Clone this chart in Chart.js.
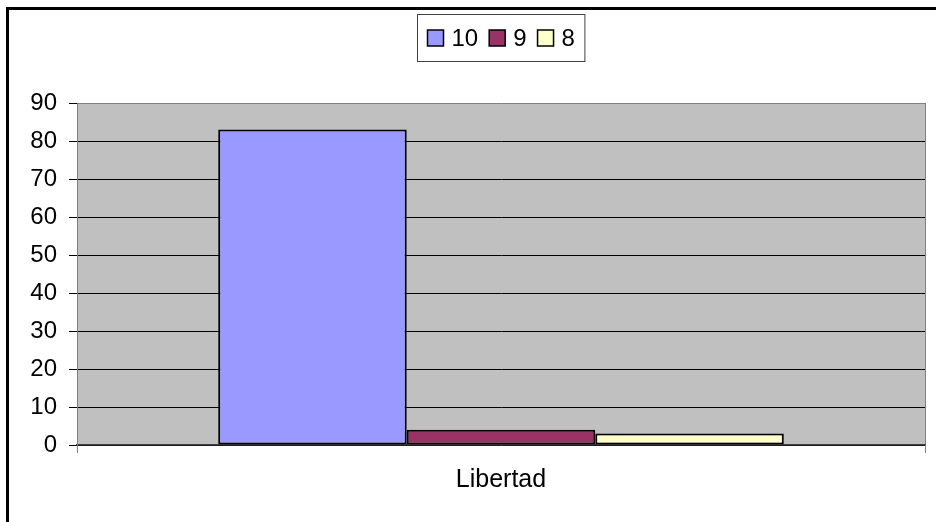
<!DOCTYPE html>
<html>
<head>
<meta charset="utf-8">
<script src="https://cdn.jsdelivr.net/npm/chart.js@4"></script>
<style>
    html, body { margin: 0; padding: 0; background: #fff; overflow: hidden; }
    #marco { position: absolute; left: 6px; top: 7px; width: 960px; height: 540px; border: 3px solid #000; }
    #wrap { position: absolute; left: 0; top: 0; width: 936px; height: 522px; }
</style>
</head>
<body>
<div id="marco"></div>
<div id="wrap"><canvas id="grafico" width="936" height="522"></canvas></div>
<script>
// ===== Datos del grafico =====
const categorias = ['Libertad'];
const series = ['10', '9', '8'];
const valores = [[83], [4], [3]];
const colores = ['#9999FF', '#993366', '#FFFFCC'];
const ticksY = [0, 10, 20, 30, 40, 50, 60, 70, 80, 90];

const FUENTE = "'Liberation Sans', Arial, sans-serif";

// fondo gris del area de trazado
const fondoPlot = {
    id: 'fondoPlot',
    beforeDraw(chart) {
        const { ctx, chartArea: a } = chart;
        ctx.save();
        ctx.fillStyle = '#C0C0C0';
        ctx.fillRect(a.left, a.top, a.right - a.left, a.bottom - a.top);
        ctx.restore();
    }
};

// leyenda con recuadro, estilo Excel
const leyendaCaja = {
    id: 'leyendaCaja',
    afterDraw(chart) {
        const { ctx, chartArea: a } = chart;
        const ds = chart.data.datasets;
        ctx.save();
        ctx.font = '24px ' + FUENTE;
        const sw = 16, gapSw = 8, gapItem = 11, padX = 10;
        const anchos = ds.map(d => sw + gapSw + ctx.measureText(d.label).width);
        const total = anchos.reduce((s, w) => s + w, 0) + gapItem * (ds.length - 1);
        const boxW = total + padX * 2;
        const boxH = 47;
        const cx = (a.left + a.right) / 2;
        const x0 = Math.round(cx - boxW / 2) + 0.5;
        const y0 = 14.5;
        ctx.fillStyle = '#fff';
        ctx.fillRect(x0, y0, boxW, boxH);
        ctx.strokeStyle = '#404040';
        ctx.lineWidth = 1;
        ctx.strokeRect(x0, y0, boxW, boxH);
        let x = x0 + padX;
        const yc = y0 + boxH / 2;
        ds.forEach((d, i) => {
            ctx.fillStyle = d.backgroundColor;
            ctx.fillRect(x, yc - sw / 2, sw, sw);
            ctx.strokeStyle = '#000';
            ctx.lineWidth = 1.5;
            ctx.strokeRect(x, yc - sw / 2, sw, sw);
            ctx.fillStyle = '#000';
            ctx.textBaseline = 'middle';
            ctx.textAlign = 'left';
            ctx.fillText(d.label, x + sw + gapSw, yc + 1);
            x += anchos[i] + gapItem;
        });
        ctx.restore();
    }
};

new Chart(document.getElementById('grafico').getContext('2d'), {
    type: 'bar',
    data: {
        labels: categorias,
        datasets: series.map((s, i) => ({
            label: s,
            data: valores[i],
            backgroundColor: colores[i],
            borderColor: '#000',
            borderWidth: 2,
            borderSkipped: false,
            categoryPercentage: 0.667,
            barPercentage: 1
        }))
    },
    options: {
        responsive: false,
        animation: false,
        events: [],
        layout: { padding: { top: 103, right: 11, left: 0, bottom: 0 } },
        plugins: {
            legend: { display: false },
            tooltip: { enabled: false }
        },
        scales: {
            x: {
                afterFit: s => { s.height = 77; },
                grid: {
                    offset: true,
                    color: '#808080',
                    tickColor: '#808080',
                    tickLength: 8,
                    lineWidth: 1
                },
                border: { color: '#404040', width: 1.5 },
                ticks: { color: '#000', padding: 12, font: { family: FUENTE, size: 25 } }
            },
            y: {
                min: 0,
                max: 90,
                afterFit: s => { s.width = 77; },
                afterBuildTicks: s => { s.ticks = ticksY.map(v => ({ value: v })); },
                grid: {
                    color: c => (c.tick && c.tick.value === 90) ? '#808080' : '#000',
                    tickColor: '#000',
                    tickLength: 8,
                    lineWidth: 1
                },
                border: { color: '#808080', width: 1 },
                ticks: { color: '#000', padding: 12, font: { family: FUENTE, size: 24 } }
            }
        }
    },
    plugins: [fondoPlot, leyendaCaja]
});
</script>
</body>
</html>
